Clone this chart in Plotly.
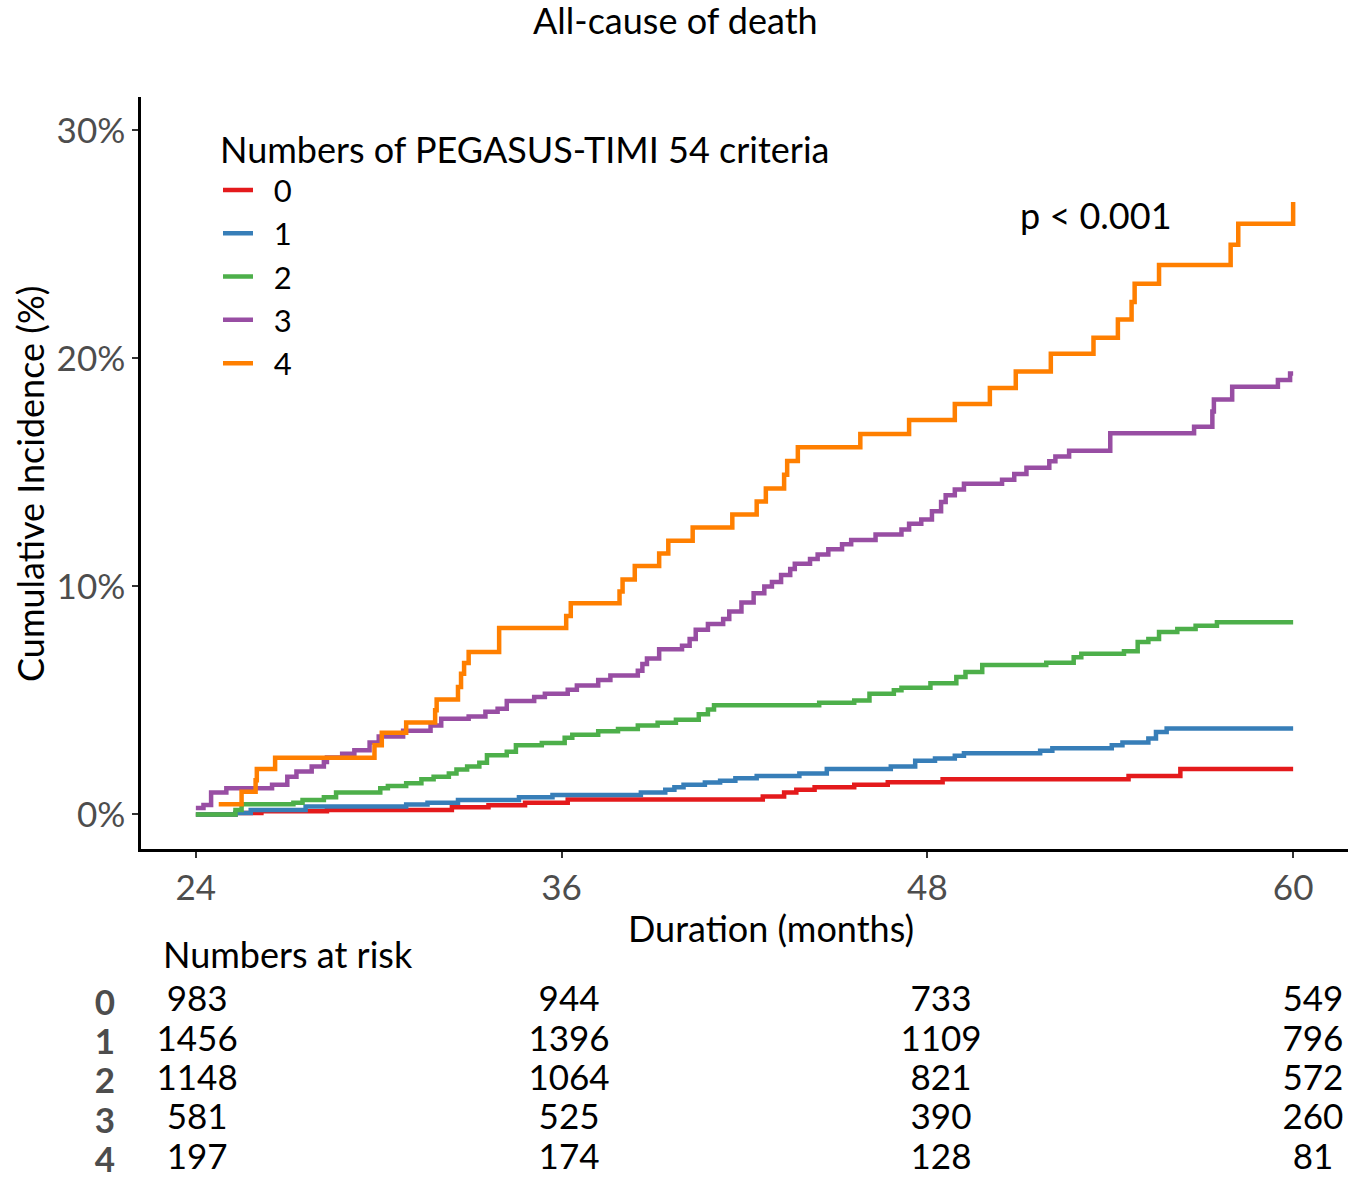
import plotly.graph_objects as go

# ---------------- data ----------------
groups = ["0", "1", "2", "3", "4"]
colors = ["#E41A1C", "#377EB8", "#4DAF4A", "#984EA3", "#FF7F00"]

t0 = [24.0, 25.3, 26.15, 28.3, 32.4, 33.6, 34.8, 36.2, 42.6, 43.3, 43.7, 44.3, 45.6, 46.7, 48.5, 54.6, 56.3, 60.0]
v0 = [0.0, 0.06, 0.14, 0.20, 0.32, 0.40, 0.52, 0.66, 0.79, 0.96, 1.08, 1.20, 1.30, 1.41, 1.54, 1.69, 2.00, 2.00]

t1 = [24.0, 25.3, 25.8, 27.6, 30.9, 31.6, 32.6, 34.6, 35.7, 38.6, 39.4, 39.7, 40.0, 40.7, 41.2, 41.7, 42.4, 43.8,
      44.7, 46.8, 47.6, 48.25, 48.9, 49.2, 51.7, 52.1, 54.05, 54.4, 55.25, 55.5, 55.85, 60.0]
v1 = [0.0, 0.06, 0.20, 0.35, 0.44, 0.52, 0.64, 0.76, 0.85, 0.96, 1.08, 1.20, 1.30, 1.40, 1.48, 1.59, 1.69, 1.80,
      2.00, 2.10, 2.36, 2.46, 2.58, 2.68, 2.80, 2.90, 3.04, 3.16, 3.33, 3.62, 3.77, 3.77]

t2 = [24.0, 25.3, 25.5, 27.2, 27.5, 28.2, 28.6, 30.05, 30.3, 30.9, 31.4, 31.8, 32.3, 32.55, 32.9, 33.3, 33.55,
      34.2, 34.5, 35.35, 36.1, 36.35, 37.2, 37.85, 38.5, 39.15, 39.75, 40.5, 40.8, 41.0, 44.45, 45.6, 46.1, 46.9,
      47.15, 48.1, 48.95, 49.25, 49.8, 51.9, 52.8, 53.05, 54.45, 54.9, 55.25, 55.6, 56.2, 56.8, 57.5, 60.0]
v2 = [0.0, 0.20, 0.45, 0.52, 0.64, 0.76, 0.96, 1.15, 1.25, 1.37, 1.54, 1.66, 1.80, 1.97, 2.10, 2.27, 2.60,
      2.75, 3.04, 3.14, 3.36, 3.50, 3.65, 3.75, 3.90, 4.02, 4.15, 4.40, 4.60, 4.79, 4.90, 5.00, 5.30, 5.45,
      5.56, 5.76, 6.03, 6.25, 6.55, 6.65, 6.90, 7.05, 7.16, 7.56, 7.70, 8.00, 8.13, 8.28, 8.43, 8.43]

t3 = [24.0, 24.25, 24.5, 25.0, 26.5, 27.0, 27.3, 27.8, 28.2, 28.3, 28.8, 29.2, 29.7, 30.0, 30.8, 31.7, 32.05,
      32.95, 33.5, 33.9, 34.2, 35.1, 35.45, 36.2, 36.5, 37.2, 37.6, 38.5, 38.65, 38.8, 39.2, 39.95, 40.2, 40.4,
      40.8, 41.3, 41.5, 41.9, 42.3, 42.65, 42.9, 43.2, 43.5, 43.65, 44.15, 44.4, 44.75, 45.2, 45.5, 46.3, 47.15,
      47.4, 47.8, 48.15, 48.45, 48.6, 48.9, 49.2, 50.45, 50.85, 51.25, 52.0, 52.2, 52.65, 54.0, 56.75, 57.35,
      57.4, 58.0, 59.5, 59.9, 60.0]
v3 = [0.28, 0.42, 0.96, 1.15, 1.30, 1.66, 1.88, 2.10, 2.30, 2.50, 2.66, 2.82, 3.16, 3.42, 3.67, 3.90, 4.20,
      4.30, 4.50, 4.64, 4.98, 5.15, 5.30, 5.47, 5.66, 5.90, 6.10, 6.30, 6.60, 6.84, 7.25, 7.40, 7.70, 8.10,
      8.35, 8.57, 8.90, 9.30, 9.70, 10.00, 10.20, 10.50, 10.77, 11.00, 11.20, 11.40, 11.63, 11.85, 12.04, 12.28, 12.50,
      12.75, 12.94, 13.30, 13.70, 14.00, 14.25, 14.50, 14.68, 14.93, 15.20, 15.49, 15.70, 15.95, 16.72, 17.00, 17.67,
      18.20, 18.76, 19.05, 19.34, 19.34]

t4 = [24.75, 25.5, 25.96, 26.0, 26.6, 29.86, 30.1, 30.9, 31.85, 31.9, 32.6, 32.7, 32.8, 32.95, 33.95, 36.15,
      36.3, 37.9, 38.0, 38.4, 39.2, 39.5, 40.3, 41.6, 42.4, 42.7, 43.3, 43.4, 43.75, 45.8, 47.4, 48.9, 50.05,
      50.9, 52.05, 53.45, 54.25, 54.7, 54.8, 55.6, 57.95, 58.2, 60.0]
v4 = [0.45, 1.00, 1.50, 1.99, 2.49, 3.04, 3.58, 4.03, 4.57, 5.04, 5.59, 6.17, 6.64, 7.12, 8.18, 8.70,
      9.26, 9.78, 10.30, 10.90, 11.44, 12.00, 12.58, 13.15, 13.73, 14.30, 14.90, 15.50, 16.10, 16.68, 17.30, 18.00, 18.70,
      19.42, 20.20, 20.90, 21.70, 22.47, 23.27, 24.10, 24.98, 25.90, 26.86]

times_all = [t0, t1, t2, t3, t4]
values_all = [v0, v1, v2, v3, v4]

x_ticks = [24, 36, 48, 60]
y_ticks = [0, 10, 20, 30]

risk_times = [24, 36, 48, 60]
risk_0 = [983, 944, 733, 549]
risk_1 = [1456, 1396, 1109, 796]
risk_2 = [1148, 1064, 821, 572]
risk_3 = [581, 525, 390, 260]
risk_4 = [197, 174, 128, 81]
risk_all = [risk_0, risk_1, risk_2, risk_3, risk_4]

# ---------------- figure ----------------
W, H = 1350, 1179
FONT = "Lato"
FS = 36

def px(x):
    return x / W

def py(y):
    return 1 - y / H

fig = go.Figure()

for g, c, t, v in zip(groups, colors, times_all, values_all):
    fig.add_trace(go.Scatter(
        x=t, y=v, mode="lines", name="\u00a0\u00a0" + g,
        line=dict(color=c, width=4.5, shape="hv"),
        xaxis="x", yaxis="y", hoverinfo="skip",
    ))

# risk table
rx, ry, rt = [], [], []
for i, row in enumerate(risk_all):
    for tt, n in zip(risk_times, row):
        rx.append(tt)
        ry.append(i)
        rt.append(str(n))
fig.add_trace(go.Scatter(
    x=rx, y=ry, text=rt, mode="text", showlegend=False,
    textfont=dict(family=FONT, size=35, color="black"),
    textposition="middle center",
    xaxis="x2", yaxis="y2", hoverinfo="skip",
))

dom_x = [px(141), px(1348)]

fig.update_layout(
    width=W, height=H,
    margin=dict(l=0, r=0, t=0, b=0),
    paper_bgcolor="white", plot_bgcolor="white",
    font=dict(family=FONT, size=FS, color="black"),
    showlegend=True,
    xaxis=dict(
        domain=dom_x, range=[22.2, 61.8], anchor="y",
        tickvals=x_ticks, ticktext=[str(v) for v in x_ticks],
        showgrid=False, zeroline=False,
        showline=True, linecolor="black", linewidth=2.5,
        ticks="outside", ticklen=6, tickwidth=2, tickcolor="#333333",
        tickfont=dict(family=FONT, size=35, color="#4D4D4D"),
    ),
    yaxis=dict(
        domain=[py(853), py(97)], range=[-1.53, 31.48], anchor="x",
        tickvals=y_ticks, ticktext=[f"{v}%" for v in y_ticks],
        showgrid=False, zeroline=False,
        showline=True, linecolor="black", linewidth=2.5,
        ticks="outside", ticklen=6, tickwidth=2, tickcolor="#333333",
        tickfont=dict(family=FONT, size=35, color="#4D4D4D"),
    ),
    xaxis2=dict(
        domain=dom_x, range=[22.19, 61.13], anchor="y2",
        visible=False, showgrid=False, zeroline=False,
    ),
    yaxis2=dict(
        domain=[0, py(980)], range=[4.36, -0.68], anchor="x2",
        tickvals=[0, 1, 2, 3, 4], ticktext=["<b>%s</b>" % g for g in groups],
        showgrid=False, zeroline=False, showline=False,
        ticks="outside", ticklen=18, tickcolor="rgba(0,0,0,0)",
        ticklabeloverflow="allow",
        tickfont=dict(family=FONT, size=35, color="#4D4D4D"),
    ),
    legend=dict(
        x=px(218), y=py(117), xanchor="left", yanchor="top",
        bgcolor="rgba(0,0,0,0)", borderwidth=0,
        title=dict(text="Numbers of PEGASUS-TIMI 54 criteria", side="top",
                   font=dict(family=FONT, size=FS, color="black")),
        font=dict(family=FONT, size=31, color="black"),
        itemwidth=30, tracegroupgap=0,
    ),
    annotations=[
        dict(text="All-cause of death", x=px(675), y=py(20), xref="paper", yref="paper",
             xanchor="center", yanchor="middle", showarrow=False,
             font=dict(family=FONT, size=FS, color="black")),
        dict(text="Cumulative Incidence (%)", x=px(30), y=py(486), xref="paper", yref="paper",
             xanchor="center", yanchor="middle", textangle=-90, showarrow=False,
             font=dict(family=FONT, size=FS, color="black")),
        dict(text="Duration (months)", x=px(771), y=py(932), xref="paper", yref="paper",
             xanchor="center", yanchor="middle", showarrow=False,
             font=dict(family=FONT, size=FS, color="black")),
        dict(text="Numbers at risk", x=px(161), y=py(958), xref="paper", yref="paper",
             xanchor="left", yanchor="middle", showarrow=False,
             font=dict(family=FONT, size=FS, color="black")),
        dict(text="p < 0.001", x=px(1018), y=py(216), xref="paper", yref="paper",
             xanchor="left", yanchor="middle", showarrow=False,
             font=dict(family=FONT, size=FS, color="black")),
    ],
)

fig.write_html("out.html", config={"displayModeBar": False},
               post_script="document.body.style.margin='0';document.body.style.overflow='hidden';")
